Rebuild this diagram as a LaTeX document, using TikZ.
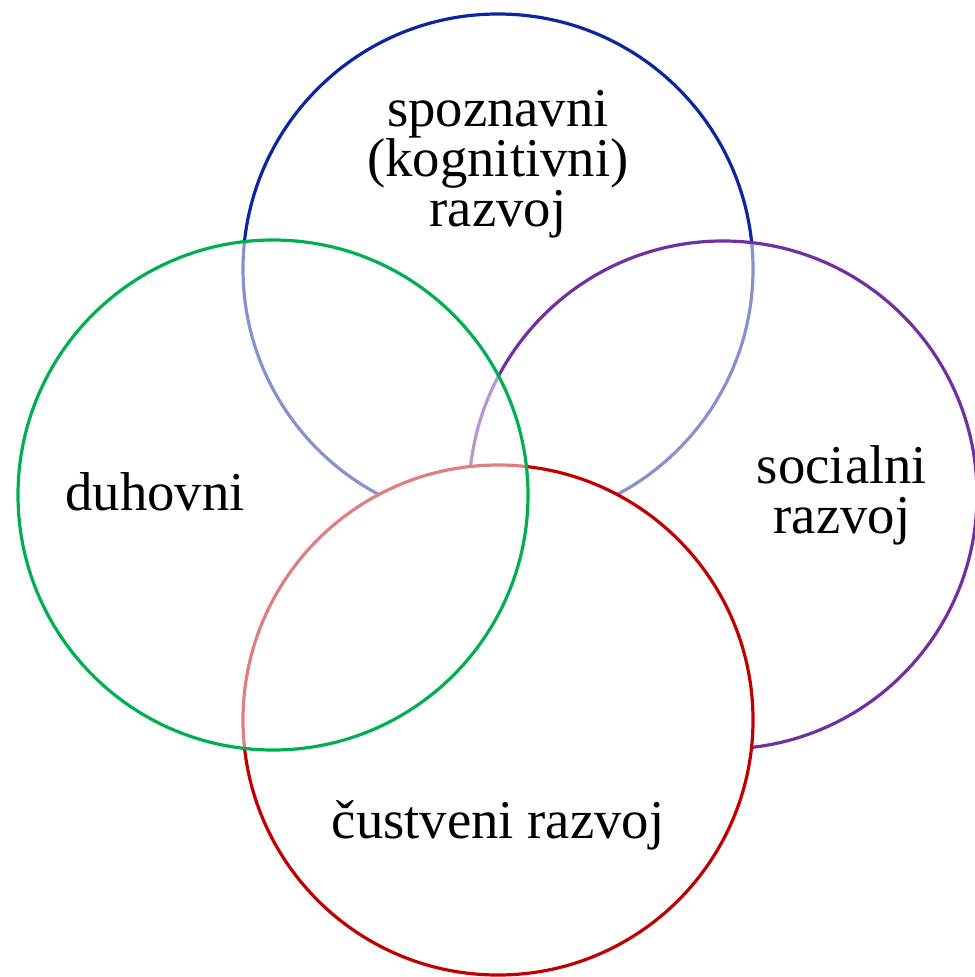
\documentclass[tikz,border=0pt]{standalone}
\usepackage{fontspec}
\setmainfont{Liberation Serif}
\definecolor{cblue}{RGB}{12,38,160}
\definecolor{cpurple}{RGB}{112,48,160}
\definecolor{cred}{RGB}{192,0,0}
\definecolor{cgreen}{RGB}{0,176,80}
\begin{document}
\begin{tikzpicture}[x=0.75pt,y=-0.75pt,
  ring/.style={line width=2.4pt},
  lbl/.style={font=\fontsize{41}{37.5}\selectfont, align=center, anchor=base, inner sep=0pt}]
\useasboundingbox (0,0) rectangle (974,977);
\draw[ring, cblue, fill=white] (498,269) circle[radius=255];
\draw[ring, cpurple, fill=white, fill opacity=0.5] (723,495) circle[radius=254];
\draw[ring, cred, fill=white] (498,720) circle[radius=255];
\draw[ring, cgreen, fill=white, fill opacity=0.5] (273,495) circle[radius=255];
\node[lbl] (cog) at (498,226) {spoznavni\\(kognitivni)\\razvoj};
\node[lbl] (spi) at (155,510) {duhovni};
\node[lbl] (soc) at (842,533) {socialni\\razvoj};
\node[lbl] (emo) at (498,838) {čustveni razvoj};
\end{tikzpicture}
\end{document}
